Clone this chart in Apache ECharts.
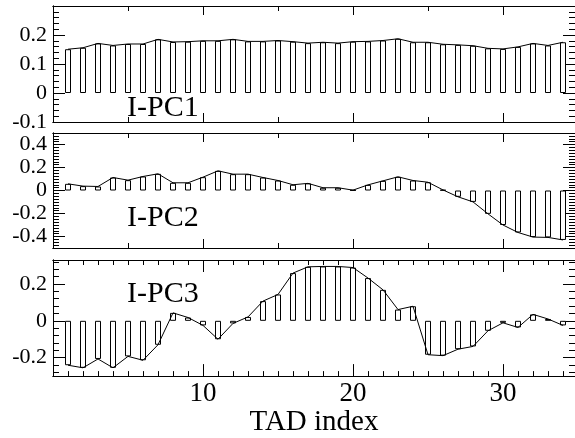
<!DOCTYPE html>
<html><head><meta charset="utf-8">
<script src="https://cdn.jsdelivr.net/npm/echarts@6/dist/echarts.min.js"></script>
<style>html,body{margin:0;padding:0;background:#fff}#c{width:575px;height:438px}</style>
</head><body><div id="c"></div>
<script>
// ---- data ----
const tadIndex = [1,2,3,4,5,6,7,8,9,10,11,12,13,14,15,16,17,18,19,20,21,22,23,24,25,26,27,28,29,30,31,32,33,34];
const pc1 = [0.151,0.156,0.171,0.164,0.169,0.169,0.185,0.176,0.177,0.180,0.180,0.185,0.178,0.178,0.181,0.177,0.172,0.175,0.172,0.177,0.178,0.181,0.187,0.175,0.175,0.168,0.166,0.163,0.154,0.152,0.159,0.171,0.164,0.175];
const pc2 = [0.058,0.038,0.035,0.113,0.090,0.122,0.145,0.067,0.067,0.116,0.171,0.142,0.142,0.113,0.087,0.050,0.062,0.024,0.024,0.003,0.049,0.084,0.119,0.087,0.072,0.005,-0.055,-0.099,-0.203,-0.300,-0.365,-0.405,-0.408,-0.430];
const pc3 = [-0.241,-0.255,-0.207,-0.255,-0.193,-0.214,-0.130,0.043,0.018,-0.025,-0.100,-0.014,0.021,0.107,0.143,0.259,0.293,0.295,0.295,0.289,0.232,0.168,0.061,0.079,-0.184,-0.189,-0.154,-0.139,-0.054,-0.011,-0.036,0.035,0.010,-0.025];
const panelNames = ['I-PC1','I-PC2','I-PC3'];
const xTickLabels = [10,20,30];
const yTickLabels = [[-0.1,0,0.1,0.2],[-0.4,-0.2,0,0.2,0.4],[-0.2,0,0.2]];
const xAxisTitle = 'TAD index';

// ---- layout / style ----
const FONT = 'Liberation Serif, Times New Roman, serif';
const grids = [
  {left:53, top:6,   width:522, height:116},
  {left:53, top:133, width:522, height:115},
  {left:53, top:260, width:522, height:117}
];
const yRanges = [[-0.1,0.3],[-0.5,0.5],[-0.3,0.33]];
const yMajorStep = [0.1,0.2,0.2];
const yMinorStep = [0.02,0.025,0.04];
const xMax = 34.8;
const seriesData = [pc1,pc2,pc3];

function steps(min,max,step){
  const out=[]; const k0=Math.ceil(min/step-1e-9), k1=Math.floor(max/step+1e-9);
  for(let k=k0;k<=k1;k++) out.push(+(k*step).toFixed(4));
  return out;
}
function without(a,b){return a.filter(v=>!b.some(w=>Math.abs(w-v)<1e-6));}

const xAxes=[], yAxes=[], series=[], graphics=[];
for(let p=0;p<3;p++){
  const isLast = p===2;
  const xMajor = [10,20,30];
  const xMinor = isLast ? without(steps(0,xMax,1),[0,10,20,30]) : [5,15,25];
  const xMajLen = isLast ? 12 : 9;
  const xMinLen = 5;
  const base = {type:'value', gridIndex:p, min:0, max:xMax, splitLine:{show:false},
    axisLine:{show:true, onZero:false, lineStyle:{color:'#000',width:1}}};
  xAxes.push(Object.assign({}, base, {position:'bottom',
    axisTick:{show:true, inside:true, length:xMajLen, customValues:xMajor, lineStyle:{color:'#000'}},
    axisLabel:{show:isLast, customValues:xTickLabels, margin:4, color:'#000', fontSize:27, fontFamily:FONT},
    name: isLast ? xAxisTitle : '', nameLocation:'middle', nameGap:31,
    nameTextStyle:{color:'#000', fontSize:29, fontFamily:FONT}}));
  xAxes.push(Object.assign({}, base, {position:'bottom',
    axisTick:{show:true, inside:true, length:xMinLen, customValues:xMinor, lineStyle:{color:'#000'}},
    axisLabel:{show:false}}));
  xAxes.push(Object.assign({}, base, {position:'top',
    axisTick:{show:true, inside:true, length:xMajLen, customValues:xMajor, lineStyle:{color:'#000'}},
    axisLabel:{show:false}}));
  xAxes.push(Object.assign({}, base, {position:'top',
    axisTick:{show:true, inside:true, length:xMinLen, customValues:xMinor, lineStyle:{color:'#000'}},
    axisLabel:{show:false}}));

  const [ymin,ymax] = yRanges[p];
  const yMaj = steps(ymin,ymax,yMajorStep[p]);
  const yMin = without(steps(ymin,ymax,yMinorStep[p]), yMaj);
  const ybase = {type:'value', gridIndex:p, min:ymin, max:ymax, splitLine:{show:false},
    axisLine:{show:true, onZero:false, lineStyle:{color:'#000',width:1}}};
  ['left','right'].forEach(pos=>{
    yAxes.push(Object.assign({}, ybase, {position:pos,
      axisTick:{show:true, inside:true, length:12, customValues:yMaj, lineStyle:{color:'#000'}},
      axisLabel:{show:pos==='left', customValues:yTickLabels[p], margin:6, color:'#000', fontSize:22, fontFamily:FONT,
        formatter:v=>String(+(+v).toFixed(2))}}));
    yAxes.push(Object.assign({}, ybase, {position:pos,
      axisTick:{show:true, inside:true, length:6, customValues:yMin, lineStyle:{color:'#000'}},
      axisLabel:{show:false}}));
  });

  const pairs = tadIndex.map((x,i)=>[x, seriesData[p][i]]);
  series.push({type:'bar', xAxisIndex:4*p, yAxisIndex:4*p, data:pairs, barWidth:6,
    itemStyle:{color:'#fff', borderColor:'#000', borderWidth:1}, animation:false, z:2});
  series.push({type:'line', xAxisIndex:4*p, yAxisIndex:4*p, data:pairs, showSymbol:false, symbol:'none',
    lineStyle:{color:'#000', width:1}, animation:false, z:3});
}

const labelY = [108, 218, 294];
for(let p=0;p<3;p++){
  graphics.push({type:'text', left:127, top:labelY[p]-15, z:10,
    style:{text:panelNames[p], fill:'#000', font:'30px '+FONT}});
}

const chart = echarts.init(document.getElementById('c'), null, {renderer:'canvas'});
chart.setOption({
  animation:false,
  backgroundColor:'#fff',
  grid: grids,
  xAxis: xAxes,
  yAxis: yAxes,
  series: series,
  graphic: graphics
});
</script></body></html>
